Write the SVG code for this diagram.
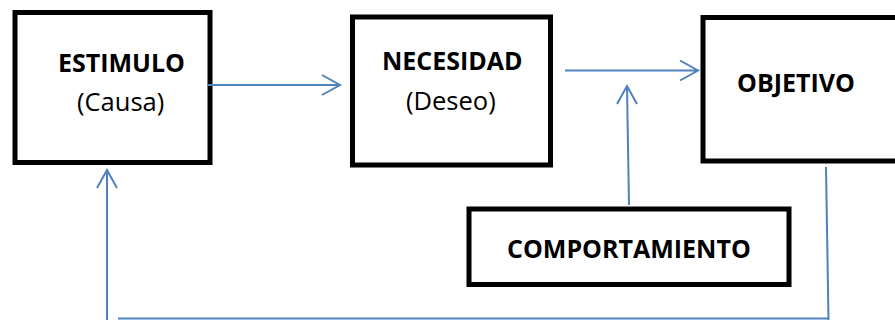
<svg xmlns="http://www.w3.org/2000/svg" width="895" height="320" viewBox="0 0 895 320">
<style>
.box{fill:#fff;stroke:#000;stroke-width:5}
.b{font-family:"Open Sans","Liberation Sans",sans-serif;font-weight:bold;font-size:25px;fill:#000}
.r{font-family:"Open Sans","Liberation Sans",sans-serif;font-size:25.5px;fill:#000}
.c{fill:none;stroke:#4F81BD;stroke-width:2}
</style>
<rect width="895" height="320" fill="#fff"/>
<g id="estimulo">
<rect class="box" x="15" y="12.5" width="195" height="150"/>
<text class="b" x="58" y="72">ESTIMULO</text>
<text class="r" x="77" y="111">(Causa)</text>
</g>
<g id="necesidad">
<rect class="box" x="352.5" y="17" width="198" height="148"/>
<text class="b" x="382" y="70">NECESIDAD</text>
<text class="r" x="406" y="110">(Deseo)</text>
</g>
<g id="objetivo">
<rect class="box" x="703" y="17.5" width="200" height="143.5"/>
<text class="b" x="737" y="92">OBJETIVO</text>
</g>
<g id="comportamiento">
<rect class="box" x="469" y="209" width="320" height="75.5"/>
<text class="b" x="507" y="258">COMPORTAMIENTO</text>
</g>
<g id="connectors">
<path class="c" d="M207,85 H339 M322,75 L340,85 L322,95"/>
<path class="c" d="M565,70.5 H697 M680,60.5 L698,70.5 L680,80.5"/>
<path class="c" d="M629,205 L627,87 M617,104 L627,86 L637,104"/>
<path class="c" d="M826,167 L828.5,320"/>
<path class="c" d="M118,318.5 H828" stroke="#8eaad6"/>
<path class="c" d="M107,320 V171 M97,188 L107,170 L117,188"/>
</g>
</svg>
